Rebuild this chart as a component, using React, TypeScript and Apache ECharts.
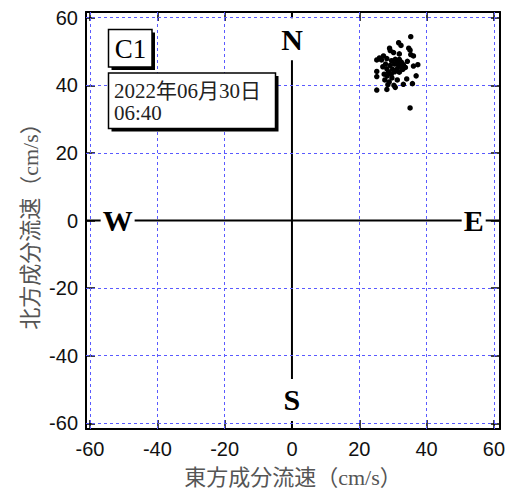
import React, { useEffect, useRef } from "react";
import * as echarts from "echarts";

const tickValues = [-60, -40, -20, 0, 20, 40, 60];
const xRange = [-61.2, 61.8];
const yRange = [-61.7, 61.7];
const eastVel = [
  35.3, 31.7, 32.4, 29.0, 34.7, 35.1, 30.2, 31.9, 35.3, 36.1, 27.2, 26.0, 25.2, 28.2, 29.6, 30.7,
  31.9, 34.3, 27.8, 29.2, 30.5, 31.7, 32.5, 33.1, 36.1, 37.4, 28.2, 29.9, 31.3, 25.2, 28.7, 32.9,
  27.4, 25.2, 28.3, 29.7, 36.9, 34.1, 27.6, 28.9, 28.5, 30.3, 33.1, 35.8, 25.2, 28.2, 30.7, 35.1,
  31.3, 32.5, 33.7, 29.5, 30.5, 31.9, 27.0, 26.6, 31.3, 29.2,
];
const northVel = [
  54.4, 52.6, 51.8, 51.0, 51.0, 50.4, 49.7, 49.3, 49.1, 48.7, 48.7, 48.1, 47.5, 47.9, 47.3, 47.7,
  47.7, 47.1, 46.3, 45.9, 46.3, 45.9, 45.5, 46.1, 45.7, 46.1, 44.9, 44.7, 44.9, 44.1, 44.0, 44.7,
  43.3, 42.6, 42.8, 42.2, 42.8, 41.9, 41.6, 41.0, 40.2, 40.0, 40.3, 40.5, 38.6, 38.8, 39.4, 33.3,
  46.7, 46.9, 45.3, 43.3, 44.0, 43.9, 45.5, 47.5, 41.6, 50.3,
];
const compassNames = ["N", "S", "W", "E"];
const compassX = [0, 0, -51.8, 54.0];
const compassY = [53.6, -53.1, 0, 0];
const stationName = "C1";
const dateLine1 = "2022年06月30日";
const dateLine2 = "06:40";
const xTitle = "東方成分流速（cm/s）";
const yTitle = "北方成分流速（cm/s）";

export default function App() {
  const ref = useRef<HTMLDivElement>(null);
  useEffect(() => {
    document.body.style.margin = "0";
    if (!ref.current) return;
    const chart = echarts.init(ref.current, undefined, { renderer: "svg" });
    const frameAxis = (labels: boolean, isX: boolean) => ({
      type: "value",
      min: isX ? xRange[0] : yRange[0],
      max: isX ? xRange[1] : yRange[1],
      axisLine: { show: true, onZero: false, lineStyle: { color: "#000", width: 2 } },
      axisTick: {
        show: true,
        inside: true,
        length: 9,
        customValues: tickValues,
        lineStyle: { color: "#000", width: 1.5 },
      },
      axisLabel: labels
        ? {
            show: true,
            customValues: tickValues,
            color: "#111",
            fontSize: 20,
            fontFamily: "Liberation Sans, Arial, sans-serif",
            margin: isX ? 10 : 8,
          }
        : { show: false },
      splitLine: { show: false },
    });
    const dataPoints = eastVel.map((x, i) => [x, northVel[i]]);
    const compassData = compassNames.map((n, i) => ({ name: n, value: [compassX[i], compassY[i]] }));
    const gridLineStyle = { color: "#5a5aff", width: 1, type: [3, 3] as any };
    const titleFont = '22px "Liberation Serif", "Noto Sans CJK JP", serif';
    const axisLineSeries = (data: number[][]) => ({
      type: "line",
      z: 2,
      silent: true,
      symbol: "none",
      lineStyle: { color: "#000", width: 2 },
      data,
    });
    const option: any = {
      animation: false,
      grid: { left: 86, right: 6, top: 12, bottom: 65, containLabel: false },
      xAxis: [
        { ...frameAxis(true, true), position: "bottom" },
        { ...frameAxis(false, true), position: "top" },
      ],
      yAxis: [
        { ...frameAxis(true, false), position: "left" },
        { ...frameAxis(false, false), position: "right" },
      ],
      series: [
        {
          type: "scatter",
          data: [],
          z: 1,
          silent: true,
          markLine: {
            silent: true,
            symbol: ["none", "none"],
            label: { show: false },
            lineStyle: gridLineStyle,
            data: [
              ...tickValues.filter((v) => v !== 0).map((v) => ({ xAxis: v })),
              ...tickValues.filter((v) => v !== 0).map((v) => ({ yAxis: v })),
            ],
          },
        },
        axisLineSeries([
          [xRange[0], 0],
          [xRange[1], 0],
        ]),
        axisLineSeries([
          [0, yRange[0]],
          [0, yRange[1]],
        ]),
        {
          type: "scatter",
          z: 5,
          silent: true,
          symbolSize: 1,
          itemStyle: { color: "#fff", opacity: 1 },
          data: compassData,
          label: {
            show: true,
            position: "inside",
            formatter: (p: any) => p.name,
            fontFamily: '"Liberation Serif", "Times New Roman", serif',
            fontWeight: "bold",
            fontSize: 30,
            color: "#000",
            opacity: 1,
            textBorderWidth: 0,
            backgroundColor: "#fff",
            padding: [6, 2],
            lineHeight: 30,
          },
        },
        {
          type: "scatter",
          z: 6,
          symbol: "circle",
          symbolSize: 5.5,
          itemStyle: { color: "#000", opacity: 1 },
          data: dataPoints,
        },
      ],
      graphic: [
        { type: "rect", z: 10, shape: { x: 111.5, y: 32.5, width: 43.5, height: 37.5 }, style: { fill: "#000" } },
        {
          type: "rect",
          z: 11,
          shape: { x: 108.5, y: 29.5, width: 43.5, height: 37.5 },
          style: { fill: "#fff", stroke: "#000", lineWidth: 1.5 },
        },
        {
          type: "text",
          z: 12,
          x: 130.5,
          y: 49,
          style: {
            text: stationName,
            font: '27px "Liberation Serif", serif',
            fill: "#000",
            align: "center",
            verticalAlign: "middle",
            textAlign: "center",
            textVerticalAlign: "middle",
          },
        },
        { type: "rect", z: 10, shape: { x: 111.5, y: 76, width: 167, height: 55.5 }, style: { fill: "#000" } },
        {
          type: "rect",
          z: 11,
          shape: { x: 108.5, y: 73, width: 167, height: 55.5 },
          style: { fill: "#fff", stroke: "#000", lineWidth: 1.5 },
        },
        {
          type: "text",
          z: 12,
          x: 114,
          y: 90.5,
          style: {
            text: dateLine1,
            font: '21px "Liberation Serif", "Noto Sans CJK JP", serif',
            fill: "#222",
            align: "left",
            verticalAlign: "middle",
            textAlign: "left",
            textVerticalAlign: "middle",
          },
        },
        {
          type: "text",
          z: 12,
          x: 114,
          y: 113,
          style: {
            text: dateLine2,
            font: '21px "Liberation Serif", "Noto Sans CJK JP", serif',
            fill: "#222",
            align: "left",
            verticalAlign: "middle",
            textAlign: "left",
            textVerticalAlign: "middle",
          },
        },
        {
          type: "text",
          z: 12,
          x: 293,
          y: 477,
          style: {
            text: xTitle,
            font: titleFont,
            fill: "#555",
            align: "center",
            verticalAlign: "middle",
            textAlign: "center",
            textVerticalAlign: "middle",
          },
        },
        {
          type: "text",
          z: 12,
          x: 30,
          y: 221,
          rotation: Math.PI / 2,
          style: {
            text: yTitle,
            font: titleFont,
            fill: "#555",
            align: "center",
            verticalAlign: "middle",
            textAlign: "center",
            textVerticalAlign: "middle",
          },
        },
      ],
    };
    chart.setOption(option);
    return () => chart.dispose();
  }, []);
  return <div ref={ref} style={{ width: 508, height: 494 }} />;
}
